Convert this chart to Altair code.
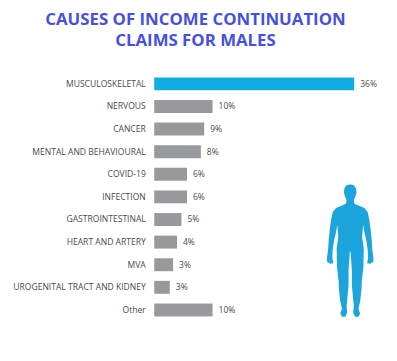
import altair as alt
import pandas as pd

categories = ["MUSCULOSKELETAL", "NERVOUS", "CANCER", "MENTAL AND BEHAVIOURAL", "COVID-19", "INFECTION",
              "GASTROINTESTINAL", "HEART AND ARTERY", "MVA", "UROGENITAL TRACT AND KIDNEY", "Other"]
values = [36, 10.5, 9, 8.4, 5.9, 5.9, 4.9, 4.1, 3.4, 2.8, 10.5]
labels = ["36%", "10%", "9%", "8%", "6%", "6%", "5%", "4%", "3%", "3%", "10%"]
highlight = [True] + [False] * 10

title_lines = ["CAUSES OF INCOME CONTINUATION", "CLAIMS FOR MALES"]
TITLE_COL = "#4650e0"
BLUE = "#10ade2"
GREY = "#97999d"
TEXT = "#4a4a4a"
FONT = "Open Sans"

# Right half of the silhouette outline, decorative only (x from axis of symmetry, y from top)
half = [(0, 0), (6, 1), (12, 3), (18, 13), (19, 26), (15, 38), (11, 48), (13, 58), (27, 64), (43, 71),
        (53, 84), (58, 108), (62, 138), (65, 168), (67, 198), (70, 220), (70, 234), (60, 240), (51, 238),
        (54, 222), (53, 200), (49, 170), (43, 145), (39, 122), (36, 158), (41, 193), (40, 248), (35, 293),
        (34, 318), (30, 353), (25, 376), (30, 390), (25, 400), (15, 400), (9, 388), (11, 368), (8, 338),
        (5, 303), (5, 258), (1, 203), (0, 203)]
H = 400.0
pts = [(x, y) for x, y in half] + [(-x, y) for x, y in reversed(half)]
body_path = "M" + " L".join(f"{x / H:.4f},{y / H - 0.5:.4f}" for x, y in pts) + " Z"

df = pd.DataFrame({"cat": categories, "val": values, "lab": labels, "hi": highlight})

x = alt.X("val:Q", scale=alt.Scale(domain=[0, 36]), axis=None)
y = alt.Y("cat:N", sort=categories, title=None,
          axis=alt.Axis(domain=False, ticks=False, grid=False, labelFont=FONT, labelFontSize=8.6,
                        labelColor=TEXT, labelPadding=9, labelLimit=200))

bars = alt.Chart(df).mark_bar(size=13).encode(
    x=x, y=y,
    color=alt.Color("hi:N", scale=alt.Scale(domain=[True, False], range=[BLUE, GREY]), legend=None),
)
text = alt.Chart(df).mark_text(align="left", dx=6, font=FONT, fontSize=8.6, color=TEXT).encode(
    x=x, y=alt.Y("cat:N", sort=categories), text="lab:N")
body = alt.Chart(pd.DataFrame({"k": [0]})).mark_point(
    shape=body_path, filled=True, color="#1ba5dc", opacity=1, size=266 * 266
).encode(x=alt.value(197), y=alt.value(179))

chart = (bars + text + body).properties(
    width=201, height=250,
    title=alt.Title(title_lines, font=FONT, fontSize=16.9, fontWeight="bold", color=TITLE_COL,
                    anchor="middle", dx=-59, offset=22.5, lineHeight=21),
    autosize=alt.AutoSizeParams(type="none"),
    padding={"left": 147, "top": 64, "right": 35, "bottom": 25},
).configure_view(stroke=None)

chart.save("out.html", embed_options={"renderer": "svg", "actions": False})
